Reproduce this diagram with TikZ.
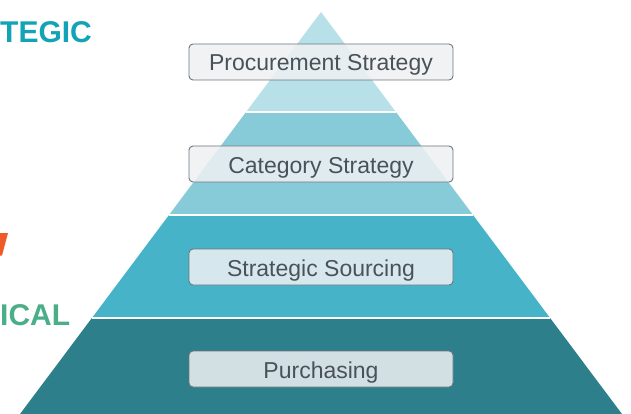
\documentclass[tikz,border=0pt]{standalone}
\usepackage{fontspec}
\setmainfont{Liberation Sans}
\begin{document}
\begin{tikzpicture}[x=1pt,y=-1pt,
  tierline/.style={draw=white, line width=1.6pt},
  levelbox/.style={draw=boxedge, line width=0.9pt, rounded corners=4pt,
    fill=boxfill, fill opacity=0.86, text opacity=1,
    minimum width=264pt, minimum height=36pt, inner sep=0pt,
    text height=18pt, text depth=0pt,
    font=\fontsize{23}{26}\selectfont, text=boxtext},
  sidelabel/.style={anchor=base west, inner sep=0pt,
    font=\fontsize{30}{34}\selectfont\bfseries}]
\definecolor{tierA}{HTML}{B8E0E8}
\definecolor{tierB}{HTML}{88CBD8}
\definecolor{tierC}{HTML}{47B3C9}
\definecolor{tierD}{HTML}{2D7F8B}
\definecolor{boxedge}{HTML}{6E767C}
\definecolor{boxfill}{HTML}{EEF1F3}
\definecolor{boxtext}{HTML}{4A5259}
\definecolor{stratcol}{HTML}{12A3B7}
\definecolor{tactcol}{HTML}{4AAE88}
\definecolor{accent}{HTML}{F05A28}
\useasboundingbox (0,0) rectangle (631,414);
\fill[white] (0,0) rectangle (631,414);

% pyramid tiers, top to bottom
\fill[tierA] (321,12) -- (395.9,112) -- (246.1,112) -- cycle;
\fill[tierB] (246.1,112) -- (395.9,112) -- (473,215) -- (169,215) -- cycle;
\fill[tierC] (169,215) -- (473,215) -- (550.1,318) -- (91.9,318) -- cycle;
\fill[tierD] (91.9,318) -- (550.1,318) -- (622,414) -- (20,414) -- cycle;

% separators between tiers
\draw[tierline] (246.1,112) -- (395.9,112);
\draw[tierline] (169,215) -- (473,215);
\draw[tierline] (91.9,318) -- (550.1,318);

% level captions
\node[levelbox] (procurement) at (321,62) {Procurement Strategy};
\node[levelbox] (category) at (321,164) {Category Strategy};
\node[levelbox] (sourcing) at (321,267) {Strategic Sourcing};
\node[levelbox] (purchasing) at (321,369) {Purchasing};

% side labels
\node[sidelabel, text=stratcol] (strategic) at (0,42.7) {TEGIC};
\node[sidelabel, text=tactcol] (tactical) at (0,325) {ICAL};
\fill[accent] (0,233) -- (8,233) -- (2,255.5) -- (0,255.5) -- cycle;
\end{tikzpicture}
\end{document}
